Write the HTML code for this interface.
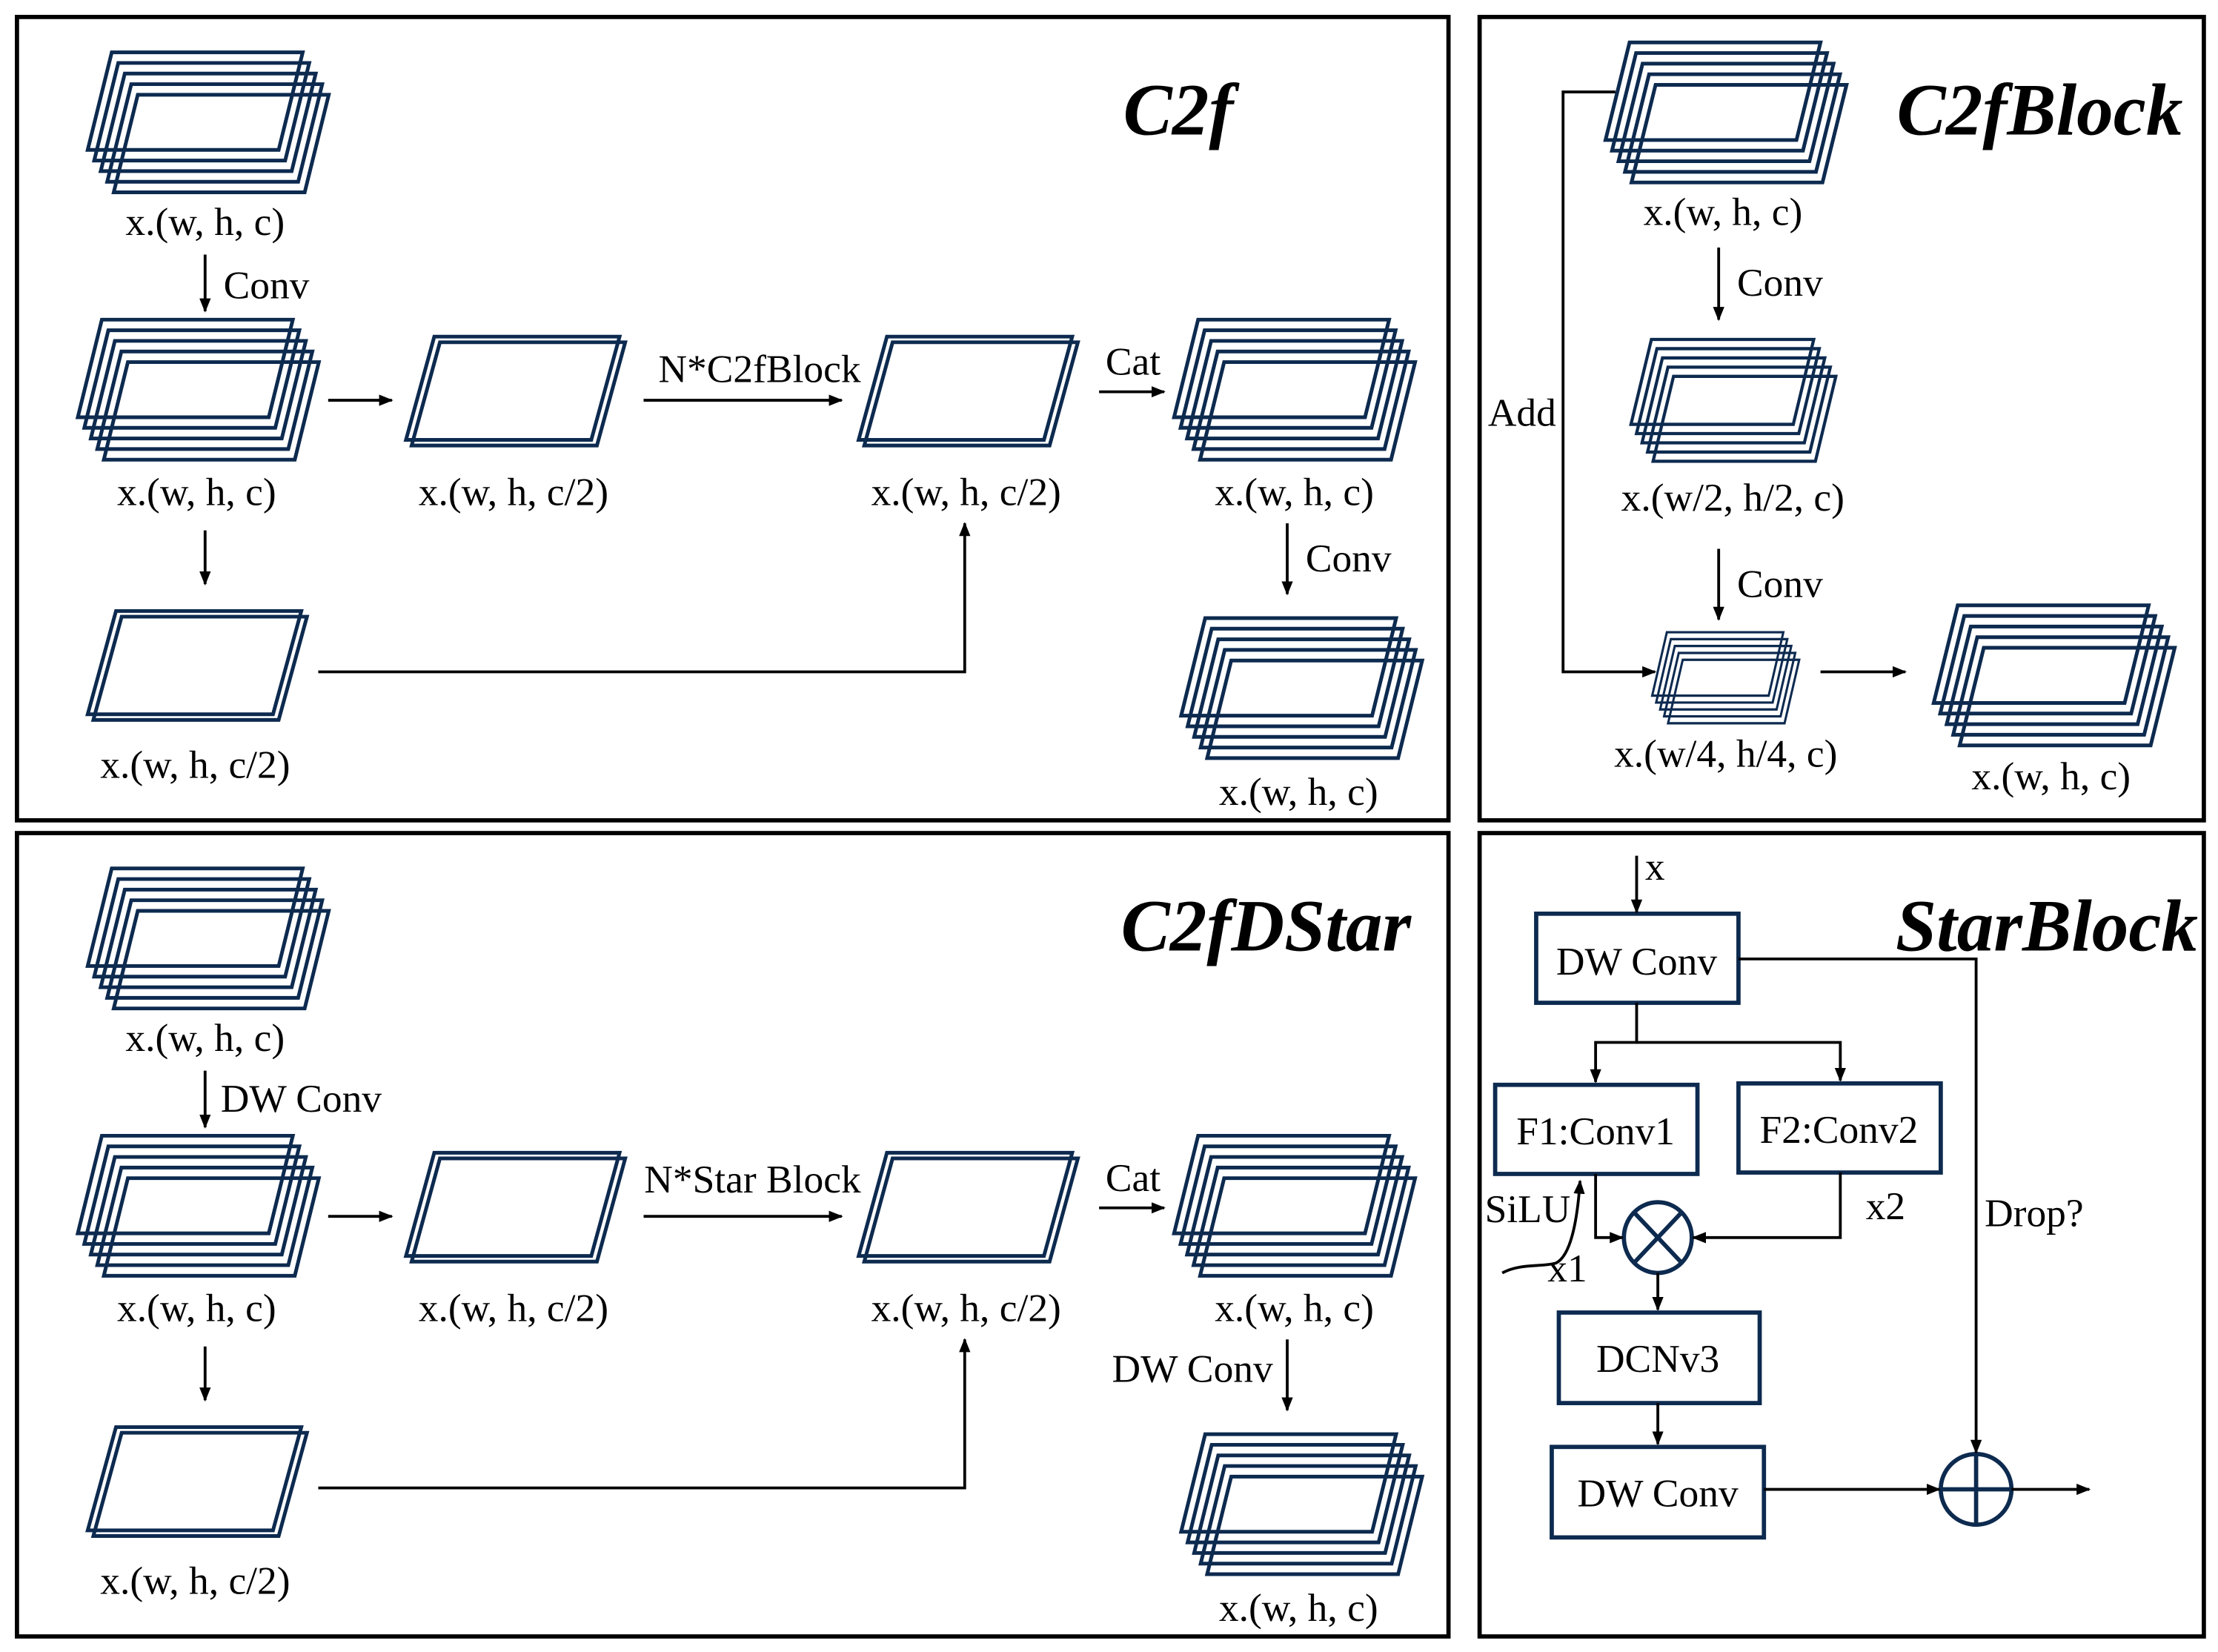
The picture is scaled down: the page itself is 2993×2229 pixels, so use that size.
<!DOCTYPE html>
<html><head><meta charset="utf-8"><style>
html,body{margin:0;padding:0;background:#fff}
svg{display:block}
text{font-family:"Liberation Serif",serif;fill:#000}
</style></head><body>
<svg width="2993" height="2229" viewBox="0 0 1568 1168" preserveAspectRatio="none" xmlns="http://www.w3.org/2000/svg">
<defs>
<marker id="ah" markerWidth="10" markerHeight="8" refX="9" refY="4" orient="auto" markerUnits="userSpaceOnUse"><path d="M0,0 L10,4 L0,8 Z" fill="#000"/></marker>
<path id="p" d="M17,0 H152 L135,69 H0 Z" fill="none" stroke="#0d2a4f" stroke-width="2.6"/>
<path id="d" d="M20,0 H151 L131,73 H0 Z" fill="none" stroke="#0d2a4f" stroke-width="2.6"/>
<g id="S"><use href="#p"/><use href="#p" x="4.6" y="7.5"/><use href="#p" x="9.2" y="15"/><use href="#p" x="13.8" y="22.5"/><use href="#p" x="18.4" y="30"/></g>
<g id="D"><use href="#d"/><use href="#d" x="4" y="4"/></g>
</defs>
<g fill="none" stroke="#000" stroke-width="3">
<rect x="12" y="12" width="1012" height="568"/>
<rect x="12" y="589" width="1012" height="568"/>
<rect x="1046" y="12" width="512" height="568"/>
<rect x="1046" y="589" width="512" height="568"/>
</g>
<g font-size="28" text-anchor="middle">
<g>
<use href="#S" x="62" y="37"/>
<text x="145" y="166">x.(w, h, c)</text>
<use href="#S" x="55" y="226"/>
<text x="139" y="357">x.(w, h, c)</text>
<use href="#D" x="287" y="238"/>
<text x="363" y="357">x.(w, h, c/2)</text>
<use href="#D" x="607" y="238"/>
<text x="683" y="357">x.(w, h, c/2)</text>
<use href="#S" x="830" y="226"/>
<text x="915" y="357">x.(w, h, c)</text>
<use href="#S" x="835" y="437"/>
<text x="918" y="569">x.(w, h, c)</text>
<use href="#D" x="62" y="432"/>
<text x="138" y="550">x.(w, h, c/2)</text>
<text x="833" y="95" font-size="52" font-weight="bold" font-style="italic">C2f</text>
<g stroke="#000" stroke-width="2" fill="none" marker-end="url(#ah)">
<path d="M145,180 V220"/><path d="M232,283 H277"/><path d="M455,283 H595"/><path d="M777,277 H823"/><path d="M910,370 V420"/><path d="M145,375 V413"/><path d="M225,475 H682 V370"/>
</g>
<text x="158" y="211" text-anchor="start">Conv</text>
<text x="537" y="270">N*C2fBlock</text>
<text x="801" y="265">Cat</text>
<text x="923" y="404" text-anchor="start">Conv</text>
</g>
<g transform="translate(0,577)">
<use href="#S" x="62" y="37"/>
<text x="145" y="166">x.(w, h, c)</text>
<use href="#S" x="55" y="226"/>
<text x="139" y="357">x.(w, h, c)</text>
<use href="#D" x="287" y="238"/>
<text x="363" y="357">x.(w, h, c/2)</text>
<use href="#D" x="607" y="238"/>
<text x="683" y="357">x.(w, h, c/2)</text>
<use href="#S" x="830" y="226"/>
<text x="915" y="357">x.(w, h, c)</text>
<use href="#S" x="835" y="437"/>
<text x="918" y="569">x.(w, h, c)</text>
<use href="#D" x="62" y="432"/>
<text x="138" y="550">x.(w, h, c/2)</text>
<text x="895" y="95" font-size="52" font-weight="bold" font-style="italic">C2fDStar</text>
<g stroke="#000" stroke-width="2" fill="none" marker-end="url(#ah)">
<path d="M145,180 V220"/><path d="M232,283 H277"/><path d="M455,283 H595"/><path d="M777,277 H823"/><path d="M910,370 V420"/><path d="M145,375 V413"/><path d="M225,475 H682 V370"/>
</g>
<text x="156" y="209" text-anchor="start">DW Conv</text>
<text x="532" y="266">N*Star Block</text>
<text x="801" y="265">Cat</text>
<text x="843" y="400">DW Conv</text>
</g>
<use href="#S" x="1135" y="30"/>
<text x="1218" y="159">x.(w, h, c)</text>
<g transform="translate(1153,240) scale(0.85,0.87)"><use href="#S"/></g>
<text x="1225" y="361">x.(w/2, h/2, c)</text>
<g transform="translate(1168,447) scale(0.61,0.65)"><use href="#S"/></g>
<text x="1220" y="542">x.(w/4, h/4, c)</text>
<use href="#S" x="1367" y="428"/>
<text x="1450" y="558">x.(w, h, c)</text>
<text x="1442" y="95" font-size="52" font-weight="bold" font-style="italic">C2fBlock</text>
<g stroke="#000" stroke-width="2" fill="none" marker-end="url(#ah)">
<path d="M1215,175 V226"/><path d="M1215,388 V438"/><path d="M1287,475 H1347"/><path d="M1142,65 H1105 V475 H1170"/>
</g>
<text x="1228" y="209" text-anchor="start">Conv</text>
<text x="1228" y="422" text-anchor="start">Conv</text>
<text x="1076" y="301">Add</text>
<text x="1447" y="672" font-size="52" font-weight="bold" font-style="italic">StarBlock</text>
<g fill="none" stroke="#0d2a4f" stroke-width="3">
<rect x="1086" y="646" width="143" height="63"/>
<rect x="1057" y="767" width="143" height="63"/>
<rect x="1229" y="766" width="143" height="63"/>
<rect x="1102" y="928" width="142" height="64"/>
<rect x="1097" y="1023" width="150" height="64"/>
<ellipse cx="1172" cy="875" rx="24" ry="25"/>
<path d="M1155,857 L1189,893 M1189,857 L1155,893"/>
<circle cx="1397" cy="1053" r="25"/>
<path d="M1372,1053 H1422 M1397,1028 V1078"/>
</g>
<g stroke="#000" stroke-width="2" fill="none" marker-end="url(#ah)">
<path d="M1157,605 V645"/>
<path d="M1229,678 H1397 V1027"/>
<path d="M1157,709 V737 H1128 V765"/>
<path d="M1157,737 H1301 V764"/>
<path d="M1128,830 V875 H1147"/>
<path d="M1301,829 V875 H1197"/>
<path d="M1172,900 V926"/>
<path d="M1172,992 V1021"/>
<path d="M1247,1053 H1371"/>
<path d="M1422,1053 H1477"/>
<path d="M1062,900 C1075,893 1090,896 1100,893 C1110,888 1115,865 1117,835"/>
</g>
<text x="1170" y="622">x</text>
<text x="1157" y="689">DW Conv</text>
<text x="1128" y="809">F1:Conv1</text>
<text x="1300" y="808">F2:Conv2</text>
<text x="1172" y="970">DCNv3</text>
<text x="1172" y="1065">DW Conv</text>
<text x="1080" y="864">SiLU</text>
<text x="1108" y="906">x1</text>
<text x="1333" y="862">x2</text>
<text x="1438" y="867">Drop?</text>
</g>
</svg>
</body></html>
